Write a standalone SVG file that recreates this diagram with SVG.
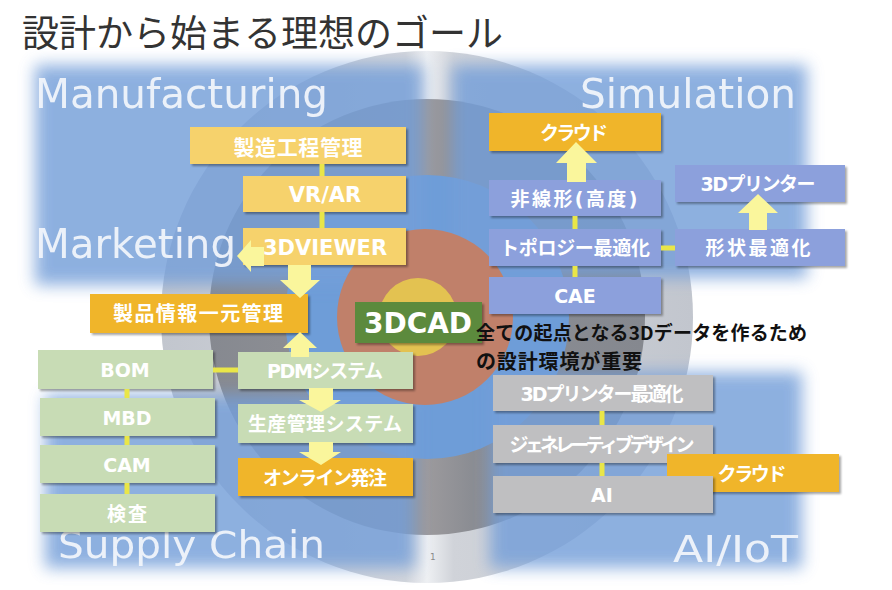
<svg xmlns="http://www.w3.org/2000/svg" width="892" height="590" viewBox="0 0 892 590">
<defs>
<style>
.ly{fill:#F6D26C}
.or{fill:#F0B52B}
.gr{fill:#C8DCB5}
.pu{fill:#8CA0DC}
.gy{fill:#BFBFC1}
.cad{fill:#5C8A3C}
.box{filter:url(#sh)}
.lbl{font-family:"DejaVu Sans","Noto Sans CJK JP",sans-serif;font-weight:bold;fill:#ffffff;text-anchor:middle;font-size:19px}
.l21{font-size:21px}
.big{font-family:"DejaVu Sans","Noto Sans CJK JP",sans-serif;font-size:41px;fill:#F4F7FC;opacity:0.92}
.conn{stroke:#E9E648;stroke-width:5;fill:none}
.arrow{fill:#FAF69C}
.title{font-family:"Noto Sans CJK JP","Noto Sans",sans-serif;font-size:37px;fill:#333333}
.note{font-family:"Noto Sans CJK JP","Noto Sans",sans-serif;font-weight:bold;fill:#111111}
</style>
<filter id="sh" x="-5%" y="-10%" width="115%" height="140%">
<feDropShadow dx="2" dy="2" stdDeviation="1.2" flood-color="#000000" flood-opacity="0.35"/>
</filter>
<filter id="blur" x="-15%" y="-15%" width="130%" height="130%">
<feGaussianBlur stdDeviation="8"/>
</filter>
<linearGradient id="gOuter" gradientUnits="userSpaceOnUse" x1="161" y1="0" x2="693" y2="0">
<stop offset="0" stop-color="#C2C6CE"/>
<stop offset="0.46" stop-color="#D2D5DB"/>
<stop offset="0.5" stop-color="#EEF0F3"/>
<stop offset="0.55" stop-color="#D0D3D9"/>
<stop offset="1" stop-color="#C2C6CE"/>
</linearGradient>
<linearGradient id="gGray" gradientUnits="userSpaceOnUse" x1="209" y1="0" x2="645" y2="0">
<stop offset="0" stop-color="#868990"/>
<stop offset="0.45" stop-color="#949498"/>
<stop offset="0.5" stop-color="#9C9A9D"/>
<stop offset="0.6" stop-color="#8B8D93"/>
<stop offset="1" stop-color="#85888F"/>
</linearGradient>
</defs>

<g id="background">
<rect x="0" y="0" width="892" height="590" fill="#ffffff"/>
<circle cx="427" cy="317" r="266" fill="url(#gOuter)"/>
<circle cx="427" cy="317" r="218" fill="url(#gGray)"/>
<circle cx="427" cy="317" r="142" fill="#6E9DD8"/>
<g filter="url(#blur)" fill="#759FD9" opacity="0.82">
<rect x="35" y="65" width="388" height="220"/>
<rect x="452" y="65" width="355" height="213"/>
<rect x="45" y="395" width="370" height="173"/>
<rect x="490" y="372" width="312" height="196"/>
</g>
<circle cx="425" cy="317" r="88" fill="#C0806A"/>
<circle cx="418" cy="317" r="39" fill="#E3C251"/>
</g>

<g id="labels">
<text class="title" x="22" y="47">設計から始まる理想のゴール</text>
<text class="big" x="35" y="108" textLength="293" lengthAdjust="spacingAndGlyphs">Manufacturing</text>
<text class="big" x="35" y="258" textLength="201" lengthAdjust="spacingAndGlyphs">Marketing</text>
<text class="big" x="580" y="108" textLength="216" lengthAdjust="spacingAndGlyphs">Simulation</text>
<text class="big" x="58" y="558" style="font-size:37px" textLength="267" lengthAdjust="spacingAndGlyphs">Supply Chain</text>
<text class="big" x="673" y="562" style="font-size:38px" textLength="125" lengthAdjust="spacingAndGlyphs">AI/IoT</text>
<text x="430" y="560" font-family="DejaVu Sans, sans-serif" font-size="9" fill="#8a8a8a">1</text>
</g>

<g id="n-seizo"><rect class="ly box" x="190" y="127" width="216" height="37"/><text class="lbl l21" x="298" y="154.5" textLength="129">製造工程管理</text></g>
<g id="n-vrar"><rect class="ly box" x="243" y="176" width="163" height="36"/><text class="lbl l21" x="325" y="202">VR/AR</text></g>
<g id="n-3dviewer"><rect class="ly box" x="243" y="228" width="163" height="37"/><text class="lbl l21" x="325" y="254.5">3DVIEWER</text></g>
<g id="n-seihin"><rect class="or box" x="90" y="294" width="218" height="39"/><text class="lbl" x="198" y="321" style="font-size:20px" textLength="170">製品情報一元管理</text></g>
<g id="n-pdm"><rect class="gr box" x="238" y="352" width="175" height="37"/><text class="lbl" x="325" y="378" textLength="116">PDMシステム</text></g>
<g id="n-seisan"><rect class="gr box" x="238" y="404" width="175" height="39"/><text class="lbl" x="325" y="431" textLength="154">生産管理システム</text></g>
<g id="n-online"><rect class="or box" x="238" y="458" width="175" height="38"/><text class="lbl" x="325" y="484.5" textLength="124">オンライン発注</text></g>
<g id="n-bom"><rect class="gr box" x="38" y="350" width="175" height="39"/><text class="lbl" x="125" y="377">BOM</text></g>
<g id="n-mbd"><rect class="gr box" x="40" y="398" width="175" height="38"/><text class="lbl" x="127" y="424.5">MBD</text></g>
<g id="n-cam"><rect class="gr box" x="40" y="445" width="175" height="38"/><text class="lbl" x="127" y="471.5">CAM</text></g>
<g id="n-kensa"><rect class="gr box" x="40" y="494" width="175" height="38"/><text class="lbl" x="127" y="520.5" textLength="40">検査</text></g>

<g id="n-cloud1"><rect class="or box" x="489" y="113" width="172" height="38"/><text class="lbl" x="574" y="139.5" textLength="68">クラウド</text></g>
<g id="n-hisenkei"><rect class="pu box" x="489" y="180" width="172" height="36"/><text class="lbl" x="574" y="205.5" textLength="127">非線形(高度)</text></g>
<g id="n-topo"><rect class="pu box" x="489" y="229" width="172" height="37"/><text class="lbl" x="575" y="255" textLength="150">トポロジー最適化</text></g>
<g id="n-cae"><rect class="pu box" x="489" y="277" width="172" height="37"/><text class="lbl" x="575" y="303">CAE</text></g>
<g id="n-3dp"><rect class="pu box" x="675" y="165" width="170" height="37"/><text class="lbl" x="758" y="191" textLength="115">3Dプリンター</text></g>
<g id="n-keijo"><rect class="pu box" x="675" y="229" width="170" height="37"/><text class="lbl" x="758" y="255" textLength="105">形状最適化</text></g>
<g id="n-3dpopt"><rect class="gy box" x="493" y="375" width="220" height="36"/><text class="lbl" x="602" y="400.5" textLength="163">3Dプリンター最適化</text></g>
<g id="n-gene"><rect class="gy box" x="493" y="425" width="220" height="38"/><text class="lbl" x="602" y="451.5" textLength="185">ジェネレーティブデザイン</text></g>
<g id="n-cloud2"><rect class="or box" x="667" y="454" width="172" height="38"/><text class="lbl" x="752" y="480.5" textLength="69">クラウド</text></g>
<g id="n-ai"><rect class="gy box" x="493" y="476" width="220" height="37"/><text class="lbl" x="602" y="502">AI</text></g>
<g id="n-3dcad"><rect class="cad box" x="355" y="302" width="127" height="41"/><text class="lbl" x="418" y="333" style="font-size:28px">3DCAD</text></g>

<g id="n-note">
<text class="note" x="476" y="340" font-size="19" textLength="331">全ての起点となる3Dデータを作るため</text>
<text class="note" x="476" y="369" font-size="20" textLength="166">の設計環境が重要</text>
</g>

<g id="connectors">
<path class="conn" d="M322,164 V176 M322,212 V228 M213,370 H238 M127,389 V398 M127,436 V445 M127,483 V494 M575,216 V229 M575,266 V277 M661,248 H675 M602,411 V425 M602,463 V476"/>
<path class="arrow" d="M237,256 L251,240 L251,247 L264,247 L264,266 L251,266 L251,272 Z"/>
<path class="arrow" d="M288,265 L311,265 L311,280 L320,280 L300,298 L280,280 L288,280 Z"/>
<path class="arrow" d="M300,332 L317,348 L309,348 L309,357 L291,357 L291,348 L283,348 Z"/>
<path class="arrow" d="M309,388 L333,388 L333,400 L341,400 L321,412 L299,400 L309,400 Z"/>
<path class="arrow" d="M309,442 L333,442 L333,452 L341,452 L321,465 L299,452 L309,452 Z"/>
<path class="arrow" d="M576,142 L597,163 L586,163 L586,182 L567,182 L567,163 L556,163 Z"/>
<path class="arrow" d="M758,194 L778,213 L767,213 L767,230 L749,230 L749,213 L738,213 Z"/>
</g>
</svg>
